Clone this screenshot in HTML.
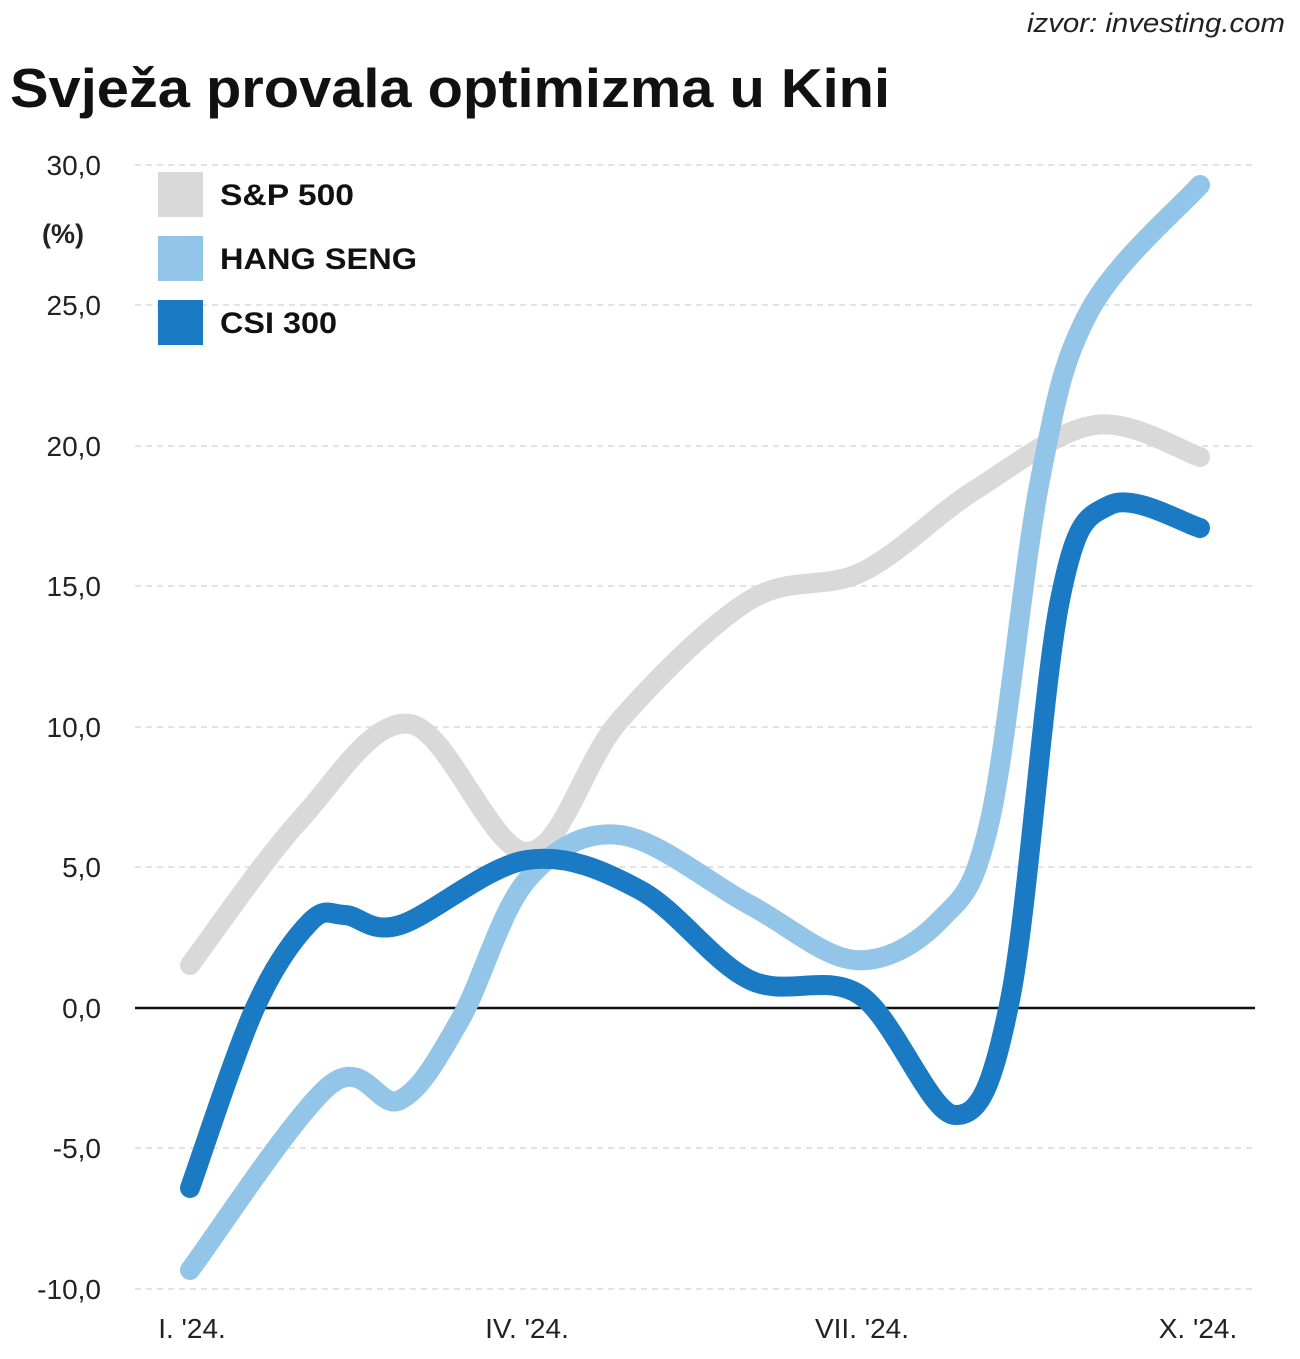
<!DOCTYPE html>
<html><head><meta charset="utf-8"><style>
body{margin:0;background:#fff;}
svg{display:block;font-family:"Liberation Sans",sans-serif;}
</style></head><body>
<svg id="s" width="1300" height="1359" viewBox="0 0 1300 1359">
<text x="1285" y="32" text-anchor="end" font-size="27" font-style="italic" fill="#222" textLength="258" lengthAdjust="spacingAndGlyphs">izvor: investing.com</text>
<text x="10" y="107" font-size="55" font-weight="bold" fill="#111" textLength="880" lengthAdjust="spacingAndGlyphs">Svježa provala optimizma u Kini</text>
<g stroke="#d8d8d8" stroke-width="1.5" stroke-dasharray="6,5">
<line x1="135" x2="1253" y1="165" y2="165"/><line x1="135" x2="1253" y1="305" y2="305"/>
<line x1="135" x2="1253" y1="446" y2="446"/><line x1="135" x2="1253" y1="586" y2="586"/>
<line x1="135" x2="1253" y1="727" y2="727"/><line x1="135" x2="1253" y1="867" y2="867"/>
<line x1="135" x2="1253" y1="1148" y2="1148"/><line x1="135" x2="1253" y1="1289" y2="1289"/>
</g>
<line x1="135" x2="1255" y1="1008" y2="1008" stroke="#111" stroke-width="2.5"/>
<g font-size="28" fill="#222" text-anchor="end">
<text x="101" y="175">30,0</text><text x="101" y="315">25,0</text><text x="101" y="456">20,0</text>
<text x="101" y="596">15,0</text><text x="101" y="737">10,0</text><text x="101" y="877">5,0</text>
<text x="101" y="1018">0,0</text><text x="101" y="1158">-5,0</text><text x="101" y="1299">-10,0</text>
</g>
<text x="42" y="243" font-size="27" font-weight="bold" fill="#222">(%)</text>
<g font-size="28" fill="#222" text-anchor="middle">
<text x="192" y="1338">I. '24.</text><text x="527" y="1338">IV. '24.</text>
<text x="862" y="1338">VII. '24.</text><text x="1198" y="1338">X. '24.</text>
</g>
<rect x="158" y="172" width="45" height="45" fill="#d9d9d9"/>
<rect x="158" y="236" width="45" height="45" fill="#92c5e7"/>
<rect x="158" y="300" width="45" height="45" fill="#1a7ac4"/>
<g font-size="30" font-weight="bold" fill="#111">
<text x="220" y="205" textLength="134" lengthAdjust="spacingAndGlyphs">S&amp;P 500</text>
<text x="220" y="269" textLength="197" lengthAdjust="spacingAndGlyphs">HANG SENG</text>
<text x="220" y="333" textLength="117" lengthAdjust="spacingAndGlyphs">CSI 300</text>
</g>
<path id="sp" fill="none" stroke="#d9d9d9" stroke-width="20" stroke-linecap="round"/>
<path id="hs" fill="none" stroke="#92c5e7" stroke-width="20" stroke-linecap="round"/>
<path id="csi" fill="none" stroke="#1a7ac4" stroke-width="20" stroke-linecap="round"/>
</svg>
<script>
function cr(p){var d="M"+p[0][0]+","+p[0][1];for(var i=0;i<p.length-1;i++){var p0=p[i-1]||p[i],p1=p[i],p2=p[i+1],p3=p[i+2]||p2;
d+=" C"+(p1[0]+(p2[0]-p0[0])/6)+","+(p1[1]+(p2[1]-p0[1])/6)+" "+(p2[0]-(p3[0]-p1[0])/6)+","+(p2[1]-(p3[1]-p1[1])/6)+" "+p2[0]+","+p2[1];}return d;}
document.getElementById("sp").setAttribute("d",cr([[190,965],[300,820],[410,724],[527,852],[620,720],[750,600],[862,572],[975,490],[1095,425],[1200,457]]));
document.getElementById("hs").setAttribute("d",cr([[190,1270],[330,1085],[400,1100],[460,1020],[527,880],[620,835],[750,905],[855,960],[940,920],[990,820],[1040,480],[1090,310],[1200,185]]));
document.getElementById("csi").setAttribute("d",cr([[190,1188],[255,1008],[310,922],[345,915],[400,925],[527,860],[640,890],[750,980],[860,995],[955,1115],[1010,1000],[1060,600],[1110,505],[1200,528]]));
</script>
</body></html>
